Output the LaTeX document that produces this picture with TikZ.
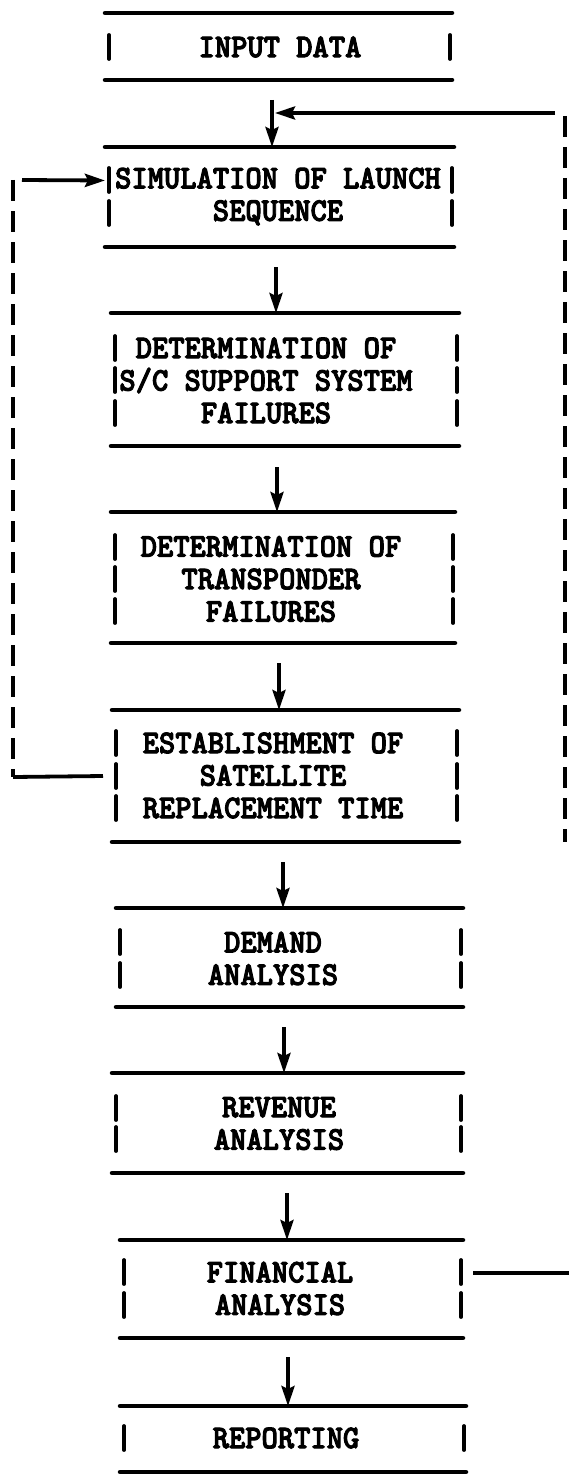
\documentclass[tikz,border=0pt]{standalone}
\usepackage{fontspec}
\newfontfamily\tw[FakeBold=3,FakeStretch=0.94]{lmmonolt10-bold.otf}
\usetikzlibrary{arrows.meta,calc}
\begin{document}
\begin{tikzpicture}[x=1pt,y=-1pt,
  hline/.style={line width=4.5pt, line cap=round},
  bar/.style={line width=3.8pt, line cap=round},
  arr/.style={line width=3.8pt, -{Stealth[length=20pt,width=13pt,inset=3pt]}},
  loopline/.style={line width=3.8pt},
  dashline/.style={line width=3.8pt, dash pattern=on 21pt off 10pt},
  frame/.style={inner sep=0pt, outer sep=0pt, draw=none},
  txt/.style={font=\tw\fontsize{33}{32.5}\selectfont, align=center, inner sep=0pt}
]
\fill[white] (0,0) rectangle (569,1474);
\useasboundingbox (0,0) rectangle (569,1474);

\foreach \n/\L/\R/\T/\B/\cx/\ty/\ys/\txt in {
 b1/105/452/13/80/280/47/{47}/{INPUT DATA},
 b2/105/454/147/247/278/196.5/{180,213}/{SIMULATION OF LAUNCH\\SEQUENCE},
 b3/111/459/313/446/266/380.5/{348,380,413}/{DETERMINATION OF\\S/C SUPPORT SYSTEM\\FAILURES},
 b4/111/455/512/643/271/579/{547,579,611}/{DETERMINATION OF\\TRANSPONDER\\FAILURES},
 b5/112/459/710/842/273/775.5/{743,776,808}/{ESTABLISHMENT OF\\SATELLITE\\REPLACEMENT TIME},
 b6/116/463/908/1007/273/958.5/{942,975}/{DEMAND\\ANALYSIS},
 b7/112/463/1073/1173/279/1123.5/{1108,1139}/{REVENUE\\ANALYSIS},
 b8/120/463/1240/1338/280/1288.5/{1272,1305}/{FINANCIAL\\ANALYSIS},
 b9/120/466/1406/1472/286/1438/{1438}/{REPORTING}}
{
 \node[frame, minimum width={\R-\L}, minimum height={\B-\T}] (\n) at ({(\L+\R)/2},{(\T+\B)/2}) {};
 \draw[hline] (\n.north west) -- (\n.north east);
 \draw[hline] (\n.south west) -- (\n.south east);
 \foreach \y in \ys {
   \draw[bar] (\L+4,\y-12) -- (\L+4,\y+12);
   \draw[bar] (\R-2,\y-12) -- (\R-2,\y+12);
 }
 \node[txt] (t\n) at (\cx,\ty) {\txt};
}

% main flow arrows
\draw[arr] ([xshift=-6.5pt,yshift=-20pt]b1.south) -- ([xshift=-7.5pt]b2.north);
\draw[arr] ([xshift=-3.5pt,yshift=-20pt]b2.south) -- ([xshift=-9pt]b3.north);
\draw[arr] ([xshift=-8pt,yshift=-21pt]b3.south) -- ([xshift=-6pt]b4.north);
\draw[arr] ([xshift=-4pt,yshift=-20pt]b4.south) -- ([xshift=-6.5pt]b5.north);
\draw[arr] ([xshift=-2.5pt,yshift=-20pt]b5.south) -- ([xshift=-6.5pt]b6.north);
\draw[arr] ([xshift=-5.5pt,yshift=-20pt]b6.south) -- ([xshift=-3.5pt]b7.north);
\draw[arr] ([xshift=-0.5pt,yshift=-20pt]b7.south) -- ([xshift=-4.5pt]b8.north);
\draw[arr] ([xshift=-3.5pt,yshift=-19pt]b8.south) -- ([xshift=-5pt]b9.north);

% left feedback loop
\coordinate (L1) at (13,180);
\coordinate (L2) at (13,777);
\draw[dashline] (L1) -- (L2);
\draw[loopline] (L2) -- ([xshift=-9pt]b5.west);
\draw[arr] ([xshift=9pt]L1) -- ([yshift=16.5pt]b2.west);

% right feedback loop
\coordinate (R1) at (565,113);
\coordinate (R2) at (565,842);
\coordinate (R3) at (569,1273);
\coordinate (J) at (275,113);
\draw[dashline] ([yshift=-3pt]R1) -- (R2);
\draw[arr] ([xshift=-10pt]R1) -- (J);
\draw[loopline] ([xshift=10pt,yshift=16pt]b8.east) -- (R3);
\end{tikzpicture}
\end{document}
